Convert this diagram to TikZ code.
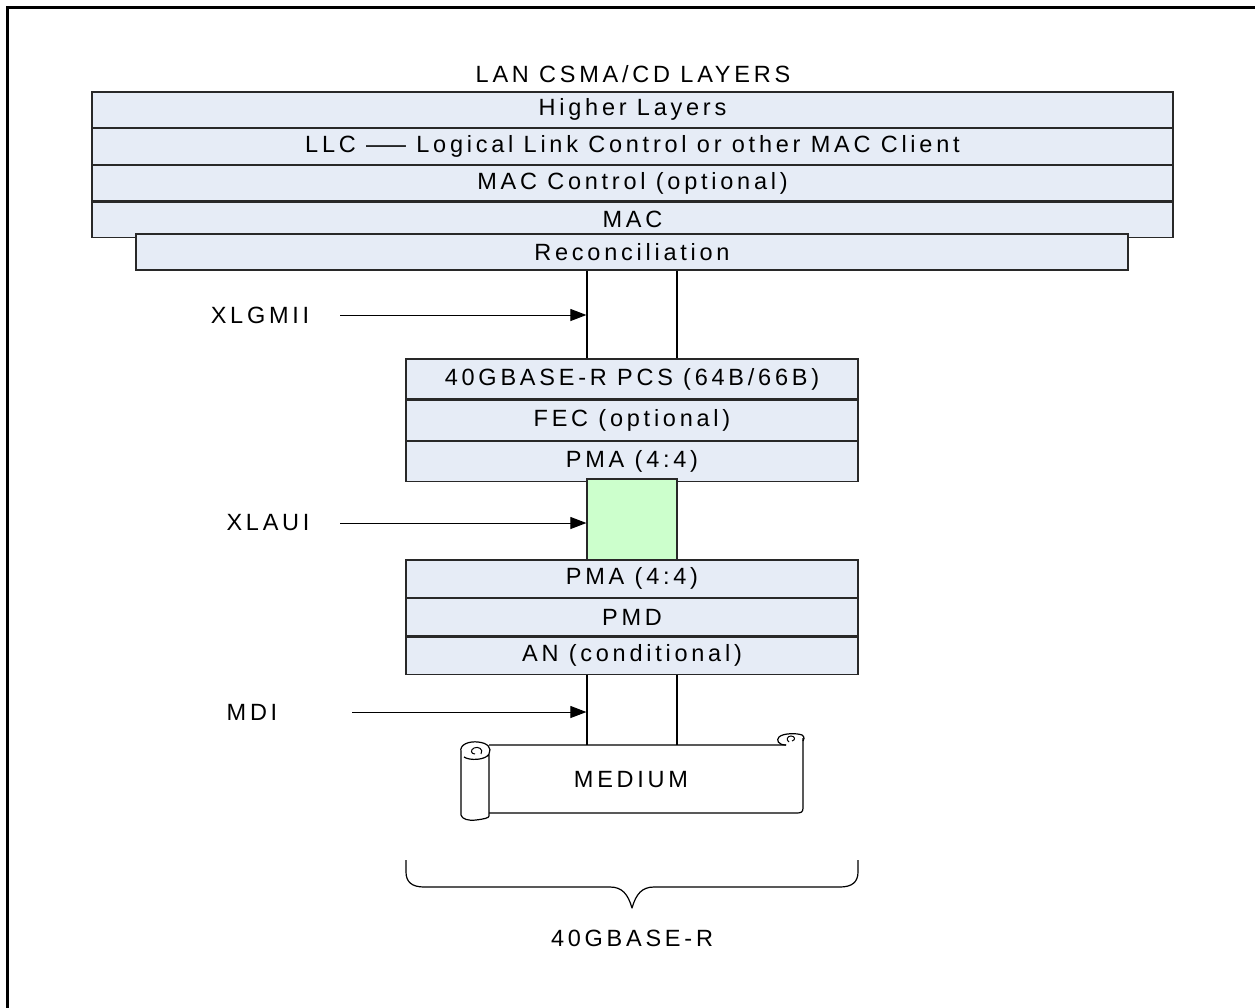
\documentclass[tikz,border=0pt]{standalone}
\usepackage{fontspec}
\setmainfont{Liberation Sans}[LetterSpace=16]
\usetikzlibrary{arrows.meta}
\definecolor{layerfill}{RGB}{230,236,246}
\definecolor{greenfill}{RGB}{204,255,204}
\definecolor{edge}{RGB}{40,40,40}
\begin{document}
\begin{tikzpicture}[x=1pt,y=-1pt,
  layer/.style={draw=edge, line width=1.2pt, fill=layerfill, inner sep=0pt, font=\fontsize{23.5}{26}\selectfont},
  lbl/.style={inner sep=0pt, font=\fontsize{23.5}{26}\selectfont},
  wire/.style={draw=black, line width=1.2pt},
  arr/.style={draw=black, line width=1pt, -{Triangle[length=16pt,width=12pt]}}]
\useasboundingbox (0,0) rectangle (1255,1007);
\fill[white] (0,0) rectangle (1255,1007);
% frame
\draw[line width=3pt] (7,1012) -- (7,7) -- (1262,7);
% title
\node[lbl] (title) at (633,74) {LAN CSMA/CD LAYERS};
% top stack
\node[layer, minimum width=1081pt, minimum height=35.5pt] (hl) at (632.5,109.75) {Higher Layers};
\node[layer, minimum width=1081pt, minimum height=35.5pt, anchor=north] (llc) at (hl.south) {LLC \scalebox{1.7}[1]{—} Logical Link Control or other MAC Client};
\node[layer, minimum width=1081pt, minimum height=35.5pt, anchor=north] (macc) at (llc.south) {MAC Control (optional)};
\node[layer, minimum width=1081pt, minimum height=35.5pt, anchor=north] (mac) at (macc.south) {MAC};
\node[layer, minimum width=992pt, minimum height=36pt] (rec) at (632,252) {Reconciliation};
% upper PHY stack
\node[layer, minimum width=452pt, minimum height=40pt] (pcs) at (632,379) {40GBASE-R PCS (64B/66B)};
\node[layer, minimum width=452pt, minimum height=40pt, anchor=north] (fec) at (pcs.south) {FEC (optional)};
\node[layer, minimum width=452pt, minimum height=40pt, anchor=north] (pma1) at (fec.south) {PMA (4:4)};
% XLAUI
\node[draw=edge, line width=1.2pt, fill=greenfill, minimum width=90pt, minimum height=81pt, inner sep=0pt] (xlaui) at (632,519.5) {};
% lower PHY stack
\node[layer, minimum width=452pt, minimum height=37.33pt] (pma2) at (632,578.67) {PMA (4:4)};
\node[layer, minimum width=452pt, minimum height=37.33pt, anchor=north] (pmd) at (pma2.south) {PMD};
\node[layer, minimum width=452pt, minimum height=37.33pt, anchor=north] (an) at (pmd.south) {AN (conditional)};
% wire x positions
\coordinate (wl) at (587,0);
\coordinate (wr) at (677,0);
% medium scroll
\node[lbl] (medium) at (631,780) {MEDIUM};
\coordinate (medtop) at (632,745);
\draw[line width=1.2pt, line join=round]
  (489,745) -- (786,745)
  (803,738) -- (803,808) .. controls (803,812) and (801,813) .. (797,813) -- (489,813);
% left roll
\draw[line width=1.2pt, line join=round]
  (461,752) .. controls (459,744) and (470,741) .. (478,742)
  .. controls (488,743) and (492,748) .. (489,754)
  .. controls (486,760) and (470,761) .. (464,757)
  (489,754) -- (489,816)
  (461,752) -- (461,815) .. controls (462,819) and (468,821) .. (476,820)
  .. controls (484,819) and (489,818) .. (489,816);
\draw[line width=1pt]
  (481,754) .. controls (484,749) and (478,746) .. (474,748)
  .. controls (470,750) and (471,754) .. (475,754);
% right roll
\draw[line width=1.2pt, line join=round]
  (786,745) .. controls (778,745) and (776,740) .. (779,737)
  .. controls (783,733) and (797,733) .. (802,735)
  .. controls (805,737) and (804,740) .. (803,741);
\draw[line width=1pt]
  (792,741) .. controls (796,740) and (795,736) .. (791,736)
  .. controls (787,736) and (786,740) .. (789,742);
% wires
\draw[wire] (rec.south -| wl) -- (pcs.north -| wl);
\draw[wire] (rec.south -| wr) -- (pcs.north -| wr);
\draw[wire] (an.south -| wl) -- (medtop -| wl);
\draw[wire] (an.south -| wr) -- (medtop -| wr);
% interface labels and arrows
\node[lbl] (xlgmii) at (260,315) {XLGMII};
\coordinate (a1) at (340,315);
\draw[arr] (a1) -- (a1 -| xlaui.west);
\node[lbl] (xlauil) at (268,523) {XLAUI};
\coordinate (a2) at (340,523);
\draw[arr] (a2) -- (a2 -| xlaui.west);
\node[lbl] (mdi) at (252,712) {MDI};
\coordinate (a3) at (352,712);
\draw[arr] (a3) -- (a3 -| xlaui.west);
% brace
\draw[line width=1.2pt, line join=round]
  (406,860) -- (406,872) .. controls (406,882) and (412,887) .. (424,887)
  -- (610,887) .. controls (622,887) and (628,894) .. (632,908)
  .. controls (636,894) and (642,887) .. (654,887)
  -- (840,887) .. controls (852,887) and (858,882) .. (858,872) -- (858,860);
\node[lbl] (phy) at (632,938) {40GBASE-R};
\end{tikzpicture}
\end{document}
